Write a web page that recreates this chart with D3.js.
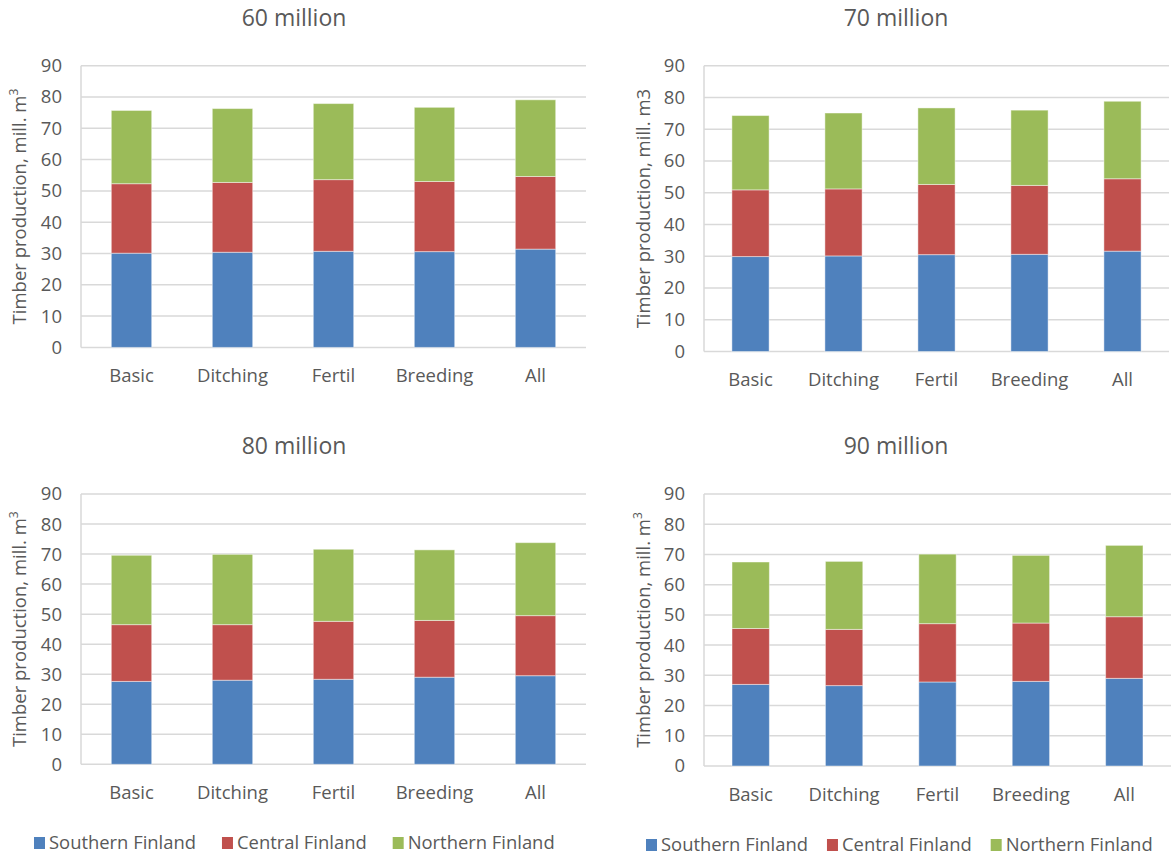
<!DOCTYPE html>
<html>
<head>
<meta charset="utf-8">
<script src="https://cdn.jsdelivr.net/npm/d3@7"></script>
<style>
  html, body { margin: 0; padding: 0; background: #fff; }
  svg { display: block; font-family: "Open Sans", "Noto Sans", sans-serif; }
</style>
</head>
<body>
<svg id="chart" width="1171" height="859"></svg>
<script>
// Treatment scenarios shown on the x axis
const categories = ["Basic", "Ditching", "Fertil", "Breeding", "All"];
const regions = ["Southern Finland", "Central Finland", "Northern Finland"];
const yTicks = [0, 10, 20, 30, 40, 50, 60, 70, 80, 90];
const panelTitles = ["60 million", "70 million", "80 million", "90 million"];

// Timber production by region (mill. m3), one array per harvest level
const southern60 = [30.1, 30.4, 30.7, 30.6, 31.4];
const central60  = [22.2, 22.3, 22.9, 22.4, 23.2];
const northern60 = [23.4, 23.6, 24.3, 23.7, 24.5];

const southern70 = [29.9, 30.1, 30.5, 30.6, 31.6];
const central70  = [21.0, 21.1, 22.1, 21.7, 22.8];
const northern70 = [23.4, 23.9, 24.1, 23.7, 24.4];

const southern80 = [27.6, 28.0, 28.3, 29.0, 29.5];
const central80  = [18.9, 18.5, 19.3, 18.9, 20.0];
const northern80 = [23.1, 23.4, 24.0, 23.5, 24.3];

const southern90 = [27.0, 26.6, 27.8, 28.0, 29.0];
const central90  = [18.5, 18.6, 19.3, 19.3, 20.4];
const northern90 = [22.0, 22.5, 23.0, 22.4, 23.6];

const panelSeries = [
  [southern60, central60, northern60],
  [southern70, central70, northern70],
  [southern80, central80, northern80],
  [southern90, central90, northern90]
];

const colors = ["#4F81BD", "#C0504D", "#9BBB59"];
const textColor = "#595959";
const gridColor = "#D9D9D9";

// Plot frames for the four panels
const frames = [
  { left: 81,  right: 586,  top: 65.7, bottom: 347.4, titleX: 294, titleY: 26,  tickLabelY: 382, axisTitleX: 20,  sup: true },
  { left: 704, right: 1169, top: 65.7, bottom: 351.5, titleX: 896, titleY: 26,  tickLabelY: 386, axisTitleX: 644, sup: false },
  { left: 81,  right: 586,  top: 494,  bottom: 764.3, titleX: 294, titleY: 454, tickLabelY: 799, axisTitleX: 20,  sup: true },
  { left: 704, right: 1171, top: 494,  bottom: 766,   titleX: 896, titleY: 454, tickLabelY: 801, axisTitleX: 644, sup: true }
];

const svg = d3.select("#chart");

frames.forEach((f, pi) => {
  const g = svg.append("g");
  const series = panelSeries[pi];

  const x = d3.scaleBand()
    .domain(categories)
    .range([f.left, f.right])
    .paddingInner(0.6)
    .paddingOuter(0.3);

  const y = d3.scaleLinear()
    .domain([0, 90])
    .range([f.bottom, f.top]);

  // horizontal gridlines
  g.append("g").selectAll("line")
    .data(yTicks)
    .join("line")
    .attr("x1", f.left).attr("x2", f.right)
    .attr("y1", d => y(d)).attr("y2", d => y(d))
    .attr("stroke", gridColor)
    .attr("stroke-width", 1.5);

  // left axis line
  g.append("line")
    .attr("x1", f.left).attr("x2", f.left)
    .attr("y1", y(90)).attr("y2", y(0))
    .attr("stroke", gridColor)
    .attr("stroke-width", 1.5);

  // y tick labels
  g.append("g").selectAll("text")
    .data(yTicks)
    .join("text")
    .attr("x", f.left - 19)
    .attr("y", d => y(d))
    .attr("dy", "0.35em")
    .attr("text-anchor", "end")
    .attr("font-size", 18.5)
    .attr("fill", textColor)
    .text(d => d);

  // stacked bars
  const rows = categories.map((c, i) => {
    const r = { category: c };
    regions.forEach((reg, k) => { r[reg] = series[k][i]; });
    return r;
  });
  const stacked = d3.stack().keys(regions)(rows);

  g.append("g").selectAll("g")
    .data(stacked)
    .join("g")
    .attr("fill", (d, k) => colors[k])
    .selectAll("rect")
    .data(d => d)
    .join("rect")
    .attr("x", d => x(d.data.category))
    .attr("width", x.bandwidth())
    .attr("y", d => y(d[1]))
    .attr("height", d => y(d[0]) - y(d[1]))
    .attr("stroke", "#ffffff")
    .attr("stroke-opacity", 0.45)
    .attr("stroke-width", 1);

  // category labels
  g.append("g").selectAll("text")
    .data(categories)
    .join("text")
    .attr("x", d => x(d) + x.bandwidth() / 2)
    .attr("y", f.tickLabelY)
    .attr("text-anchor", "middle")
    .attr("font-size", 18.5)
    .attr("fill", textColor)
    .text(d => d);

  // panel title
  g.append("text")
    .attr("x", f.titleX)
    .attr("y", f.titleY)
    .attr("text-anchor", "middle")
    .attr("font-size", 23)
    .attr("fill", textColor)
    .text(panelTitles[pi]);

  // y axis title
  const midY = (y(90) + y(0)) / 2;
  const at = g.append("text")
    .attr("transform", `translate(${f.axisTitleX},${midY}) rotate(-90)`)
    .attr("text-anchor", "middle")
    .attr("dy", "0.35em")
    .attr("font-size", 18.5)
    .attr("fill", textColor);
  if (f.sup) {
    at.append("tspan").text("Timber production, mill. m");
    at.append("tspan").attr("font-size", 12).attr("dy", "-0.7em").text("3");
  } else {
    at.text("Timber production, mill. m3");
  }
});

// legends under the bottom panels
const legends = [
  { x: 34,  y: 843, gap: 26 },
  { x: 646, y: 845, gap: 19 }
];
legends.forEach(L => {
  const lg = svg.append("g");
  let cx = L.x;
  regions.forEach((reg, k) => {
    lg.append("rect")
      .attr("x", cx).attr("y", L.y - 6)
      .attr("width", 11).attr("height", 12)
      .attr("fill", colors[k]);
    const t = lg.append("text")
      .attr("x", cx + 15)
      .attr("y", L.y)
      .attr("dy", "0.35em")
      .attr("font-size", 18.4)
      .attr("fill", textColor)
      .text(reg);
    cx = cx + 15 + t.node().getComputedTextLength() + L.gap;
  });
});
</script>
</body>
</html>
